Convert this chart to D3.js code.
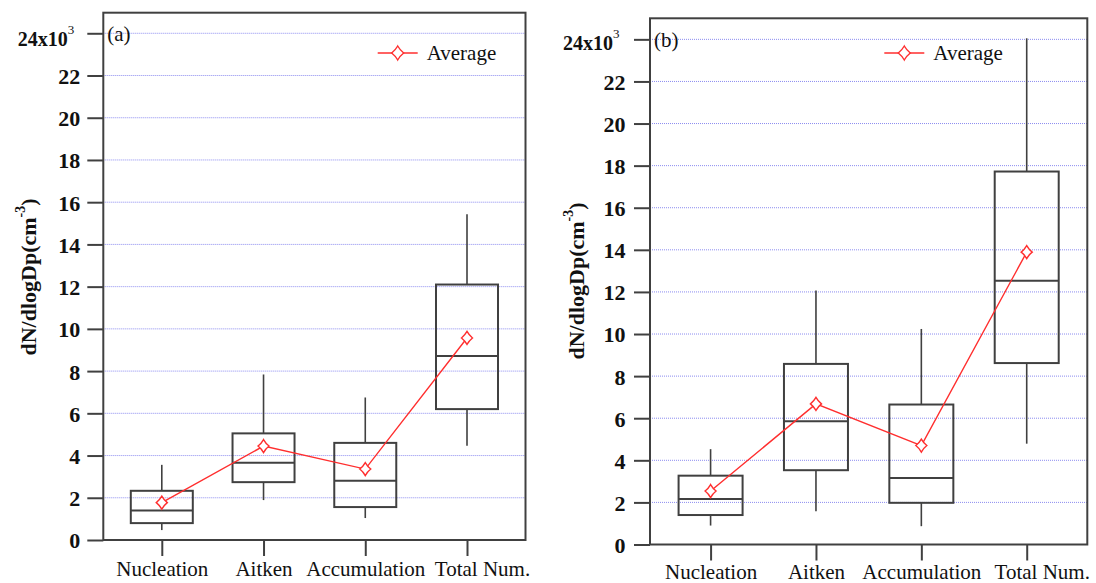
<!DOCTYPE html>
<html>
<head>
<meta charset="utf-8">
<script src="https://cdn.jsdelivr.net/npm/d3@7"></script>
<style>
  body { margin: 0; background: #fff; }
  svg { display: block; font-family: "Liberation Serif", "Times New Roman", serif; }
</style>
</head>
<body>
<svg width="1096" height="583"></svg>
<script>
const categories = ["Nucleation", "Aitken", "Accumulation", "Total Num."];
const yTicks = [0, 2, 4, 6, 8, 10, 12, 14, 16, 18, 20, 22, 24];

// panel (a), x10^3 cm-3
const lowA  = [0.47, 1.89, 1.04, 4.46];
const q1A   = [0.80, 2.74, 1.56, 6.20];
const medA  = [1.40, 3.66, 2.81, 8.72];
const q3A   = [2.33, 5.05, 4.60, 12.10];
const highA = [3.56, 7.84, 6.75, 15.43];
const meanA = [1.77, 4.45, 3.36, 9.57];

// panel (b)
const lowB  = [0.90, 1.58, 0.87, 4.79];
const q1B   = [1.40, 3.53, 1.98, 8.62];
const medB  = [2.16, 5.85, 3.16, 12.53];
const q3B   = [3.27, 8.58, 6.65, 17.72];
const highB = [4.53, 12.07, 10.24, 24.05];
const meanB = [2.54, 6.68, 4.70, 13.89];

const svg = d3.select("svg");

const panels = [
    { label: "(a)", left: 103.3, right: 525.5, top: 12.7, bottom: 540, ymax: 24.975, bw: 62,
      titleX: 36, titleY: 277, legX: 377.7, pad: 7, topDy: 12, xlabY: 36,
      low: lowA, q1: q1A, med: medA, q3: q3A, high: highA, mean: meanA },
    { label: "(b)", left: 650, right: 1087.3, top: 18.3, bottom: 544.5, ymax: 25.0, bw: 64,
      titleX: 584, titleY: 281, legX: 884.3, pad: 8.5, topDy: 10, xlabY: 34,
      low: lowB, q1: q1B, med: medB, q3: q3B, high: highB, mean: meanB },
];

// diamond marker with slightly hollowed sides
const diamond = (cx, cy, w, h) => {
    const kx = w * 0.4, ky = h * 0.4;
    return `M${cx},${cy - h} Q${cx + kx},${cy - ky} ${cx + w},${cy} Q${cx + kx},${cy + ky} ${cx},${cy + h}` +
           ` Q${cx - kx},${cy + ky} ${cx - w},${cy} Q${cx - kx},${cy - ky} ${cx},${cy - h}Z`;
};

const red = "#ff2e2e";
const dark = "#404040";

panels.forEach(p => {
    const g = svg.append("g");

    const x = d3.scalePoint()
        .domain(categories)
        .range([p.left, p.right])
        .padding(0.575);

    const y = d3.scaleLinear()
        .domain([0, p.ymax])
        .range([p.bottom, p.top]);

    // grid
    g.append("g")
        .selectAll("line")
        .data(yTicks.filter(t => t > 0))
        .enter().append("line")
            .attr("x1", p.left).attr("x2", p.right)
            .attr("y1", d => y(d)).attr("y2", d => y(d))
            .attr("stroke", "#8c8cf0")
            .attr("stroke-width", 1)
            .attr("stroke-dasharray", "1,1");

    // frame
    g.append("rect")
        .attr("x", p.left).attr("y", p.top)
        .attr("width", p.right - p.left).attr("height", p.bottom - p.top)
        .attr("fill", "none").attr("stroke", dark).attr("stroke-width", 2);

    // y axis
    const yAxis = g.append("g")
        .attr("transform", `translate(${p.left},0)`)
        .call(d3.axisLeft(y).tickValues(yTicks).tickSize(16).tickPadding(p.pad).tickFormat(d3.format("d")));
    yAxis.select(".domain").remove();
    yAxis.selectAll(".tick line").attr("stroke", dark).attr("stroke-width", 2);
    yAxis.selectAll(".tick text")
        .attr("fill", "#111")
        .attr("font-family", "Liberation Serif, Times New Roman, serif")
        .attr("font-size", 22)
        .attr("font-weight", "bold")
        .attr("dy", "0.36em");

    // top label reads 24x10^3, its right edge sits a little left of the others
    yAxis.selectAll(".tick text")
        .filter(d => d === 24)
        .each(function() {
            const t = d3.select(this).text(null)
                .attr("text-anchor", "start")
                .attr("dy", p.topDy);
            t.append("tspan").attr("font-size", 20).text("24x10");
            t.append("tspan").attr("dy", -12).attr("font-size", 13).attr("font-weight", "normal").text("3");
            const len = this.getComputedTextLength();
            t.attr("x", -(16 + p.pad + 6) - len);
        });

    // x axis
    const xAxis = g.append("g")
        .attr("transform", `translate(0,${p.bottom})`)
        .call(d3.axisBottom(x).tickSize(16).tickPadding(0));
    xAxis.select(".domain").remove();
    xAxis.selectAll(".tick line").attr("stroke", dark).attr("stroke-width", 2);
    xAxis.selectAll(".tick text")
        .attr("fill", "#111")
        .attr("font-family", "Liberation Serif, Times New Roman, serif")
        .attr("font-size", 21)
        .attr("dy", null)
        .attr("y", p.xlabY)
        .attr("dx", d => d === "Total Num." ? 15 : 0);

    // y title
    const title = g.append("text")
        .attr("transform", `translate(${p.titleX},${p.titleY}) rotate(-90)`)
        .attr("text-anchor", "middle")
        .attr("font-size", 22)
        .attr("font-weight", "bold")
        .attr("fill", "#111");
    title.append("tspan").text("dN/dlogDp(cm");
    title.append("tspan").attr("dy", -11).attr("font-size", 14).text("-3");
    title.append("tspan").attr("dy", 11).text(")");

    // panel label
    g.append("text")
        .attr("x", p.left + 4).attr("y", y(24) + 8)
        .attr("font-size", 21).attr("fill", "#111")
        .text(p.label);

    // boxes
    const boxes = g.append("g")
        .selectAll("g")
        .data(categories.map((c, i) => ({
            c, low: p.low[i], q1: p.q1[i], med: p.med[i], q3: p.q3[i], high: p.high[i]
        })))
        .enter().append("g")
            .attr("stroke", dark);

    boxes.append("line")
        .attr("x1", d => x(d.c)).attr("x2", d => x(d.c))
        .attr("y1", d => y(d.high)).attr("y2", d => y(d.q3))
        .attr("stroke-width", 1.6);
    boxes.append("line")
        .attr("x1", d => x(d.c)).attr("x2", d => x(d.c))
        .attr("y1", d => y(d.q1)).attr("y2", d => y(d.low))
        .attr("stroke-width", 1.6);
    boxes.append("rect")
        .attr("x", d => x(d.c) - p.bw / 2).attr("width", p.bw)
        .attr("y", d => y(d.q3)).attr("height", d => y(d.q1) - y(d.q3))
        .attr("fill", "none").attr("stroke-width", 2);
    boxes.append("line")
        .attr("x1", d => x(d.c) - p.bw / 2).attr("x2", d => x(d.c) + p.bw / 2)
        .attr("y1", d => y(d.med)).attr("y2", d => y(d.med))
        .attr("stroke-width", 2);

    // mean line
    const line = d3.line()
        .x((d, i) => x(categories[i]))
        .y(d => y(d));
    g.append("path")
        .datum(p.mean)
        .attr("d", line)
        .attr("fill", "none").attr("stroke", red).attr("stroke-width", 1.4);
    g.append("g")
        .selectAll("path")
        .data(p.mean)
        .enter().append("path")
            .attr("d", (d, i) => diamond(x(categories[i]), y(d), 5.5, 6.5))
            .attr("fill", "#fff").attr("stroke", red).attr("stroke-width", 1.4);

    // legend
    const leg = g.append("g");
    leg.append("line")
        .attr("x1", p.legX).attr("x2", p.legX + 40)
        .attr("y1", 53).attr("y2", 53)
        .attr("stroke", red).attr("stroke-width", 1.4);
    leg.append("path")
        .attr("d", diamond(p.legX + 20, 53, 6, 7))
        .attr("fill", "#fff").attr("stroke", red).attr("stroke-width", 1.4);
    leg.append("text")
        .attr("x", p.legX + 49).attr("y", 60)
        .attr("font-size", 21).attr("fill", "#111")
        .text("Average");
});
</script>
</body>
</html>
